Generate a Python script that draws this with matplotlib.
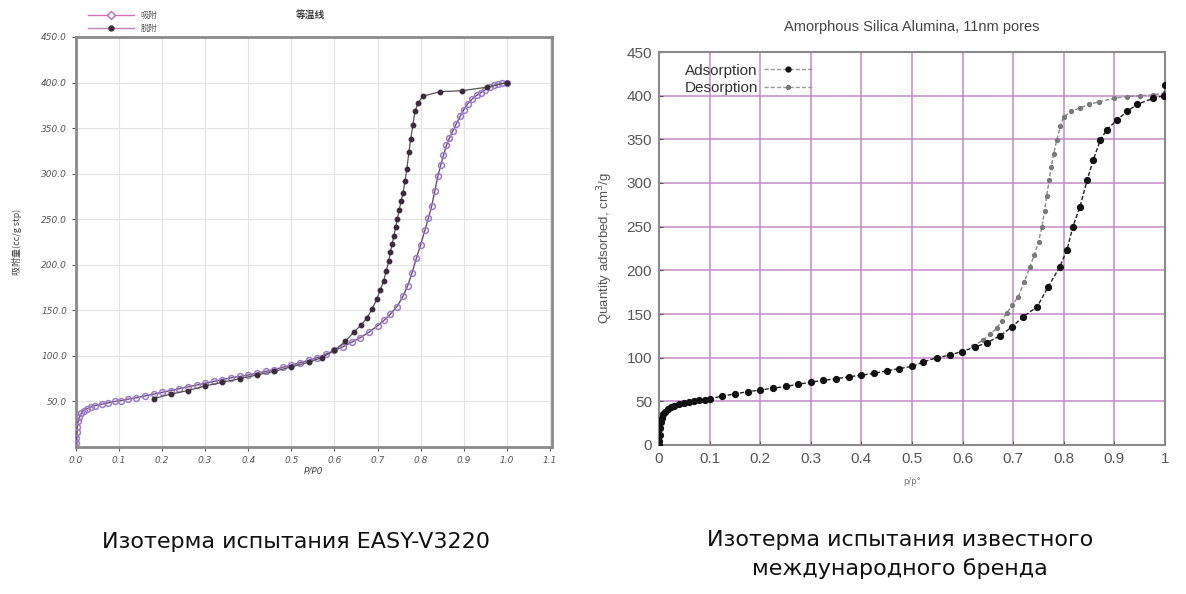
import matplotlib
matplotlib.use("Agg")
import matplotlib.pyplot as plt
from matplotlib.lines import Line2D

plt.rcParams['font.family'] = ['DejaVu Sans', 'Noto Sans CJK SC']

# ---------------- Left chart data (EASY-V3220) ----------------
left_ads_p = [0.0, 0.001, 0.002, 0.003, 0.005, 0.008, 0.012, 0.018, 0.025, 0.035, 0.045,
              0.06, 0.075, 0.09, 0.105, 0.12, 0.14, 0.16, 0.18, 0.2, 0.22, 0.24, 0.26,
              0.28, 0.3, 0.32, 0.34, 0.36, 0.38, 0.4, 0.42, 0.44, 0.46, 0.48, 0.5, 0.52,
              0.54, 0.56, 0.58, 0.6, 0.62, 0.64, 0.66, 0.68, 0.7, 0.715, 0.73, 0.745,
              0.76, 0.77, 0.78, 0.79, 0.8, 0.81, 0.818, 0.826, 0.833, 0.84, 0.847, 0.853,
              0.86, 0.867, 0.875, 0.883, 0.892, 0.9, 0.91, 0.92, 0.93, 0.94, 0.95, 0.96,
              0.97, 0.98, 0.99, 1.0]
left_ads_v = [4, 10, 16, 22, 28, 33, 37, 40, 42, 44, 45.5,
              47, 48.5, 50, 51, 52.5, 54, 56, 58, 60, 62, 64, 66,
              68, 70, 72, 74, 76, 77.5, 79, 81, 83, 85, 87.5, 90, 92.5,
              95, 98, 102, 106, 110, 115, 120, 126, 133, 139, 146, 154,
              166, 177, 191, 207, 222, 238, 251, 265, 281, 297, 310, 320,
              331, 339, 347, 355, 363, 370, 377, 382, 386, 389, 392, 395,
              397, 398, 399, 400]
left_des_p = [1.0, 0.955, 0.895, 0.845, 0.805, 0.795, 0.787, 0.782, 0.777, 0.773, 0.768,
              0.764, 0.759, 0.755, 0.75, 0.746, 0.742, 0.738, 0.734, 0.73, 0.726, 0.72,
              0.714, 0.706, 0.698, 0.688, 0.676, 0.662, 0.645, 0.625, 0.6, 0.57, 0.54,
              0.5, 0.46, 0.42, 0.38, 0.34, 0.3, 0.26, 0.22, 0.18]
left_des_v = [400, 395, 391, 390, 385, 378, 369, 353, 338, 324, 305,
              292, 279, 270, 260, 250, 241, 232, 223, 214, 204, 193,
              182, 172, 162, 152, 142, 134, 126, 116, 106, 98, 93,
              88, 83, 79, 75, 71, 67, 62, 58, 53]
left_xticks = [0.0, 0.1, 0.2, 0.3, 0.4, 0.5, 0.6, 0.7, 0.8, 0.9, 1.0, 1.1]
left_yticks = [50, 100, 150, 200, 250, 300, 350, 400, 450]
left_legend = ['吸附', '脱附']
left_title = '等温线'
left_ylabel = '吸附量(cc/g stp)'
left_xlabel = 'P/P0'

# ---------------- Right chart data (international brand) ----------------
right_ads_p = [0.0, 0.0005, 0.001, 0.002, 0.003, 0.005, 0.008, 0.012, 0.017, 0.023, 0.03,
               0.04, 0.05, 0.06, 0.07, 0.08, 0.09, 0.1, 0.125, 0.15, 0.175, 0.2, 0.225,
               0.25, 0.275, 0.3, 0.325, 0.35, 0.375, 0.4, 0.425, 0.45, 0.475, 0.5, 0.522,
               0.549, 0.575, 0.598, 0.624, 0.648, 0.674, 0.697, 0.72, 0.747, 0.769, 0.792,
               0.806, 0.818, 0.832, 0.846, 0.858, 0.872, 0.885, 0.905, 0.925, 0.945, 0.976,
               0.998, 1.0]
right_ads_v = [0, 5, 12, 20, 26, 31, 35, 38, 41, 43, 45,
               47, 48.5, 49.5, 50.5, 51.5, 52, 53, 56, 58.5, 61, 63, 65,
               67, 69.5, 72, 74, 76, 78, 80, 82, 85, 87.5, 90, 95,
               100, 103, 107, 112, 117, 125, 135, 147, 158, 181, 204,
               223, 250, 273, 303, 326, 349, 361, 372, 382, 390, 397,
               400, 412]
right_des_p = [1.0, 0.976, 0.95, 0.925, 0.9, 0.87, 0.85, 0.832, 0.815, 0.8, 0.793, 0.786,
               0.78, 0.775, 0.771, 0.766, 0.762, 0.757, 0.75, 0.742, 0.733, 0.722, 0.71,
               0.698, 0.687, 0.677, 0.668, 0.655, 0.64, 0.62]
right_des_v = [403, 401, 400, 399, 397, 393, 390, 386, 382, 376, 365, 349,
               333, 318, 303, 285, 268, 250, 233, 218, 204, 187, 170,
               160, 151, 142, 134, 127, 120, 113]
right_xticks = [0, 0.1, 0.2, 0.3, 0.4, 0.5, 0.6, 0.7, 0.8, 0.9, 1]
right_xticklabels = ['0', '0.1', '0.2', '0.3', '0.4', '0.5', '0.6', '0.7', '0.8', '0.9', '1']
right_yticks = [0, 50, 100, 150, 200, 250, 300, 350, 400, 450]
right_legend = ['Adsorption', 'Desorption']
right_title = 'Amorphous Silica Alumina, 11nm pores'
right_ylabel = 'Quantity adsorbed, cm$^3$/g'
right_xlabel = 'p/p°'

caption_left = 'Изотерма испытания EASY-V3220'
caption_right = ['Изотерма испытания известного', 'международного бренда']

W, H = 1186, 594
fig = plt.figure(figsize=(W / 100, H / 100), dpi=100)
fig.patch.set_facecolor('white')

# ---------------- Left axes ----------------
axL = fig.add_axes([76 / W, 1 - 447 / H, 476 / W, 410 / H])
purple = '#9a7cc6'
dark = '#3b2b3b'
axL.plot(left_ads_p, left_ads_v, color='#6a4a80', lw=1.0, marker='o', ms=4.2,
         mfc='none', mec=purple, mew=1.1, zorder=3)
axL.plot(left_des_p, left_des_v, color='#555555', lw=0.9, marker='o', ms=3.2,
         mfc=dark, mec=dark, zorder=4)
axL.set_xlim(0, 1.105)
axL.set_ylim(0, 450)
axL.set_xticks(left_xticks)
axL.set_xticklabels(['%.1f' % t for t in left_xticks])
axL.set_yticks(left_yticks)
axL.set_yticklabels(['%.1f' % t for t in left_yticks])
axL.grid(True, color='#e2e2e2', lw=0.8)
axL.set_axisbelow(True)
for s in axL.spines.values():
    s.set_color('#8a8a8a')
    s.set_linewidth(2.0)
axL.tick_params(axis='both', labelsize=6.5, colors='#555555', length=3, width=0.8,
                direction='out')
for lab in axL.get_xticklabels() + axL.get_yticklabels():
    lab.set_style('italic')
axL.set_xlabel(left_xlabel, fontsize=6.5, style='italic', color='#444444', labelpad=1)
axL.set_ylabel(left_ylabel, fontsize=6.5, color='#444444', labelpad=14,
               family=['Noto Sans CJK SC', 'DejaVu Sans'])
fig.text(310 / W, 1 - 15 / H, left_title, fontsize=7, color='#444444', ha='center',
         va='center', family=['Noto Sans CJK SC', 'DejaVu Sans'], fontweight='bold')
hL = [Line2D([], [], color='#d86fb4', lw=1.0, marker='D', ms=4, mfc='white', mec='#b070b0'),
      Line2D([], [], color='#c080b8', lw=1.0, marker='o', ms=3.5, mfc=dark, mec=dark)]
legL = fig.legend(hL, left_legend, loc='center left', bbox_to_anchor=(84 / W, 1 - 22 / H),
                  frameon=False, handlelength=5.5, labelspacing=0.55,
                  handletextpad=0.8, borderpad=0,
                  prop={'family': ['Noto Sans CJK SC', 'DejaVu Sans'], 'size': 6})
for t in legL.get_texts():
    t.set_color('#555555')

# ---------------- Right axes ----------------
axR = fig.add_axes([659 / W, 1 - 445 / H, 506 / W, 393 / H])
axR.plot(right_des_p, right_des_v, color='#8a8a8a', lw=1.0, ls=(0, (3, 1.5)), marker='o',
         ms=2.8, mfc='#7a7a7a', mec='#7a7a7a', zorder=3)
axR.plot(right_ads_p, right_ads_v, color='#222222', lw=1.0, ls=(0, (3, 1.5)), marker='o',
         ms=4.2, mfc='#111111', mec='#111111', zorder=4)
axR.set_xlim(0, 1)
axR.set_ylim(0, 450)
axR.set_xticks(right_xticks)
axR.set_xticklabels(right_xticklabels)
axR.set_yticks(right_yticks)
axR.grid(True, color='#c48ac4', lw=1.1)
axR.set_axisbelow(True)
for s in axR.spines.values():
    s.set_color('#8a8a8a')
    s.set_linewidth(1.5)
axR.tick_params(axis='both', labelsize=11, colors='#555555', length=3, width=0.8,
                direction='in', pad=5)
for lab in axR.get_xticklabels() + axR.get_yticklabels():
    lab.set_family('Liberation Sans')
axR.set_ylabel(right_ylabel, fontsize=9.5, color='#555555', labelpad=8,
               family='Liberation Sans')
axR.set_xlabel(right_xlabel, fontsize=6, color='#777777', labelpad=8)
fig.text(912 / W, 1 - 27 / H, right_title, fontsize=10.5, color='#444444', ha='center',
         va='center', family='Liberation Sans')
hR = [Line2D([], [], color='#999999', lw=1.0, ls=(0, (3, 1.5)), marker='o', ms=3.5,
             mfc='#111111', mec='#111111'),
      Line2D([], [], color='#999999', lw=1.0, ls=(0, (3, 1.5)), marker='o', ms=2.8,
             mfc='#777777', mec='#777777')]
legR = axR.legend(hR, right_legend, loc='upper left', bbox_to_anchor=(0.035, 0.99),
                  frameon=False, handlelength=3.2, labelspacing=0.25,
                  handletextpad=0.4, markerfirst=False, borderpad=0,
                  prop={'family': 'Liberation Sans', 'size': 11})
for t in legR.get_texts():
    t.set_color('#333333')

# ---------------- Captions ----------------
fig.text(296 / W, 1 - 542 / H, caption_left, fontsize=16, color='#111111',
         ha='center', va='center')
fig.text(900 / W, 1 - 540 / H, caption_right[0], fontsize=16, color='#111111',
         ha='center', va='center')
fig.text(900 / W, 1 - 569 / H, caption_right[1], fontsize=16, color='#111111',
         ha='center', va='center')

fig.savefig('out.png', dpi=100, facecolor='white')
